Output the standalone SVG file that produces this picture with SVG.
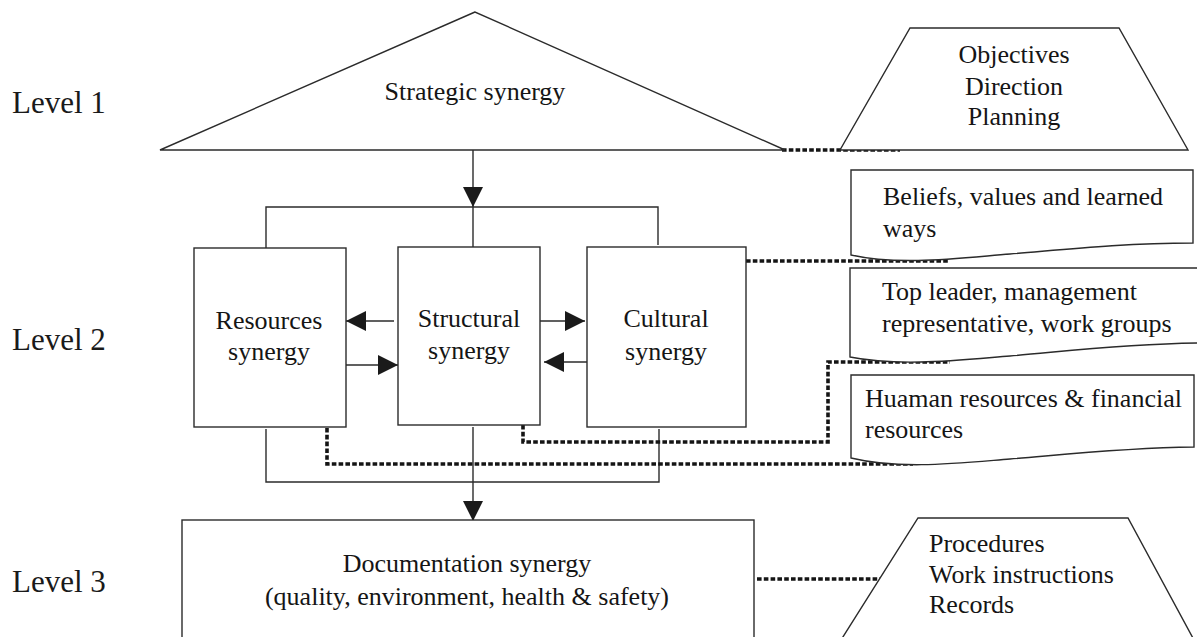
<svg xmlns="http://www.w3.org/2000/svg" width="1197" height="637" viewBox="0 0 1197 637">
  <style>
    .shape { fill: #ffffff; stroke: #2b2b2b; stroke-width: 1.4; }
    .line { fill: none; stroke: #2b2b2b; stroke-width: 1.4; }
    .dot { fill: none; stroke: #151515; stroke-width: 3.6; stroke-dasharray: 4.6 2.2; }
    .t { font-family: "Liberation Serif", "Times New Roman", serif; font-size: 26px; fill: #151515; }
    .mid { text-anchor: middle; }
    .lvl { font-family: "Liberation Serif", "Times New Roman", serif; font-size: 31px; fill: #1a1a1a; }
  </style>
  <defs>
    <marker id="head" viewBox="0 0 20 20" refX="20" refY="10" markerWidth="20" markerHeight="20" markerUnits="userSpaceOnUse" orient="auto">
      <path d="M0,0 L20,10 L0,20 Z" fill="#1a1a1a"/>
    </marker>
  </defs>

  <rect width="1197" height="637" fill="#ffffff"/>

  <!-- level labels -->
  <g id="levels">
    <text class="lvl" x="12" y="113">Level 1</text>
    <text class="lvl" x="12" y="350">Level 2</text>
    <text class="lvl" x="12" y="592">Level 3</text>
  </g>

  <!-- connectors -->
  <g id="connectors">
    <!-- distribution frame from the strategic level -->
    <path class="line" d="M266,248 V207 H658 V245"/>
    <path class="line" d="M473,207 V247"/>
    <path class="line" d="M473,150 V207" marker-end="url(#head)"/>
    <!-- collection frame toward the documentation level -->
    <path class="line" d="M266,429 V482 H659 V429"/>
    <path class="line" d="M473,427 V521" marker-end="url(#head)"/>
    <!-- exchanges between the level-2 synergies -->
    <path class="line" d="M394,321 H346" marker-end="url(#head)"/>
    <path class="line" d="M346,365 H398" marker-end="url(#head)"/>
    <path class="line" d="M540,321 H585" marker-end="url(#head)"/>
    <path class="line" d="M587,362 H544" marker-end="url(#head)"/>
    <!-- dotted links to the descriptive notes -->
    <path class="dot" d="M782,150 H900"/>
    <path class="dot" d="M746,261 H950"/>
    <path class="dot" d="M523,425 V442 H828 V362 H950"/>
    <path class="dot" d="M327,428 V464 H913"/>
    <path class="dot" d="M757,579 H882"/>
  </g>

  <g id="strategic">
    <polygon class="shape" points="475,12 160,150 785,150"/>
    <text class="t mid" x="475" y="100">Strategic synergy</text>
  </g>

  <g id="objectives">
    <polygon class="shape" points="910,28 1119,28 1188,150 840,150"/>
    <text class="t mid" x="1014" y="63">Objectives</text>
    <text class="t mid" x="1014" y="95">Direction</text>
    <text class="t mid" x="1014" y="125">Planning</text>
  </g>

  <g id="resources">
    <rect class="shape" x="194" y="248" width="152" height="179"/>
    <text class="t mid" x="269" y="329">Resources</text>
    <text class="t mid" x="269" y="360">synergy</text>
  </g>

  <g id="structural">
    <rect class="shape" x="398" y="247" width="142" height="178"/>
    <text class="t mid" x="469" y="327">Structural</text>
    <text class="t mid" x="469" y="359">synergy</text>
  </g>

  <g id="cultural">
    <rect class="shape" x="587" y="247" width="159" height="180"/>
    <text class="t mid" x="666" y="327">Cultural</text>
    <text class="t mid" x="666" y="360">synergy</text>
  </g>

  <g id="beliefs">
    <path class="shape" d="M851,170 H1193 V243 C1120,243 1060,250 1010,254 C960,258 900,266 851,255 Z"/>
    <text class="t" x="883" y="205">Beliefs, values and learned</text>
    <text class="t" x="883" y="237">ways</text>
  </g>

  <g id="leaders">
    <path class="shape" d="M850,268 H1199 V343 C1120,344 1060,352 1010,356 C960,360 900,367 850,357 Z"/>
    <text class="t" x="882" y="300">Top leader, management</text>
    <text class="t" x="882" y="332">representative, work groups</text>
  </g>

  <g id="hr-finance">
    <path class="shape" d="M851,375 H1194 V447 C1120,448 1060,455 1010,459 C960,463 900,470 851,458 Z"/>
    <text class="t" x="865" y="407">Huaman resources &amp; financial</text>
    <text class="t" x="865" y="438">resources</text>
  </g>

  <g id="documentation">
    <rect class="shape" x="182" y="520" width="572" height="130"/>
    <text class="t mid" x="467" y="572">Documentation synergy</text>
    <text class="t mid" x="467" y="605">(quality, environment, health &amp; safety)</text>
  </g>

  <g id="procedures">
    <polygon class="shape" points="918,518 1128,518 1194,640 841,640"/>
    <text class="t" x="929" y="552">Procedures</text>
    <text class="t" x="929" y="583">Work instructions</text>
    <text class="t" x="929" y="613">Records</text>
  </g>
</svg>
